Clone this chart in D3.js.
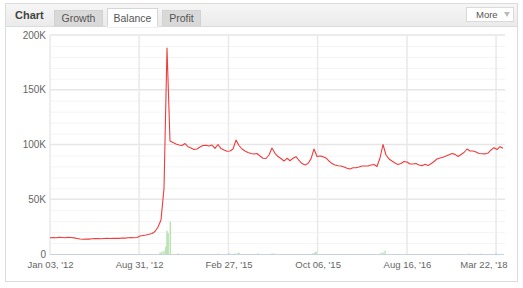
<!DOCTYPE html>
<html lang="en">
<head>
<meta charset="UTF-8">
<title>Balance chart</title>
<style>
  body { margin: 0; background: #fff; }
  svg { display: block; font-family: "Liberation Sans", Arial, sans-serif; }
</style>
</head>
<body>
<svg width="523" height="288"></svg>
<script src="https://d3js.org/d3.v7.min.js"></script>
<script>

// balance, in thousands, one sample per step of the category axis
var balance = [
  14.9, 15.1, 14.9, 15.2, 15.1, 14.8, 15.2, 15.0, 14.7, 14.2,
  13.7, 13.5, 13.7, 13.6, 13.9, 14.0, 14.1, 13.9, 14.2, 14.3,
  14.1, 14.3, 14.4, 14.3, 14.6, 14.5, 14.9, 15.0, 14.8, 15.1,
  16.4, 16.9, 17.4, 18.0, 18.7, 20.5, 24.7, 31.0, 60.0, 188.0,
  103.2, 101.8, 100.5, 99.5, 99.1, 100.9, 98.0, 96.8, 95.4, 95.9,
  97.7, 99.1, 99.3, 98.6, 99.5, 96.5, 100.0, 96.3, 95.0, 93.8,
  94.1, 95.9, 104.0, 99.1, 95.9, 94.1, 92.7, 91.8, 91.3, 91.8,
  89.5, 87.4, 87.2, 90.4, 96.8, 92.0, 89.0, 87.2, 84.9, 87.4,
  85.2, 87.4, 88.9, 85.4, 82.6, 81.3, 82.6, 86.9, 95.9, 89.0,
  89.5, 88.9, 87.7, 84.9, 82.6, 81.3, 80.6, 80.4, 79.4, 78.3,
  77.6, 78.8, 78.8, 79.4, 80.4, 80.4, 80.4, 81.3, 81.7, 79.9,
  87.7, 100.0, 90.4, 86.8, 84.9, 83.1, 81.7, 82.6, 84.5, 84.0,
  82.2, 82.2, 82.6, 81.3, 80.6, 81.9, 80.8, 82.4, 84.5, 86.8,
  87.7, 88.4, 89.5, 90.7, 91.8, 91.0, 89.0, 90.9, 92.7, 95.9,
  94.1, 94.1, 93.1, 91.8, 91.5, 91.4, 92.2, 95.0, 97.1, 95.4,
  98.0, 96.5
];

// deposit bars: position on the same axis, value in thousands
var barPos = [36.7, 37.3, 38, 38.6, 39, 39.4, 40.1, 42.7, 56, 59.7, 61.7, 62.7, 63,
              69.3, 74, 74.7, 87.7, 88.3, 88.7, 110.3, 111, 111.7, 139.7, 143.7, 148.7];
var barVal = [1.4, 2.1, 3.0, 6.7, 21.3, 19.0, 29.5, 0.6, 0.5, 0.8, 0.6, 1.0, 1.2,
              0.6, 0.5, 0.5, 0.8, 1.3, 2.2, 1.0, 1.5, 3.0, 0.5, 0.5, 0.6];

var tickPos = [0, 29.7, 59.5, 89.2, 119, 148.7];
var tickLabels = ["Jan 03, '12", "Aug 31, '12", "Feb 27, '15", "Oct 06, '15", "Aug 16, '16", "Mar 22, '18"];

var yTicks = [0, 50, 100, 150, 200];
var tabs = ["Growth", "Balance", "Profit"];

var svg = d3.select("svg");

// panel + header
svg.append("rect").attr("x", 5.5).attr("y", 3.5).attr("width", 512).attr("height", 278)
    .attr("fill", "#fff").attr("stroke", "#dcdcdc");

var grad = svg.append("defs").append("linearGradient").attr("id", "hdr")
    .attr("x1", 0).attr("y1", 0).attr("x2", 0).attr("y2", 1);
grad.append("stop").attr("offset", "0%").attr("stop-color", "#f6f6f6");
grad.append("stop").attr("offset", "100%").attr("stop-color", "#ebebeb");

svg.append("rect").attr("x", 6).attr("y", 4).attr("width", 511).attr("height", 22)
    .attr("fill", "url(#hdr)");
svg.append("line").attr("x1", 6).attr("x2", 517).attr("y1", 26.5).attr("y2", 26.5)
    .attr("stroke", "#dcdcdc");

svg.append("text").attr("x", 15).attr("y", 19).text("Chart")
    .attr("font-size", 11).attr("font-weight", "bold").attr("fill", "#444");

var tabX = [54, 107, 162], tabW = [48, 50, 38];
tabs.forEach(function(t, i) {
    var active = t == "Balance";
    svg.append("rect")
        .attr("x", tabX[i] + 0.5).attr("y", active ? 8.5 : 10.5)
        .attr("width", tabW[i]).attr("height", active ? 18.5 : 15.5)
        .attr("fill", active ? "#fff" : "#d9d9d9")
        .attr("stroke", active ? "#d6d6d6" : "#d2d2d2");
    svg.append("text").attr("x", tabX[i] + tabW[i] / 2 + 0.5).attr("y", 21.5)
        .attr("text-anchor", "middle").attr("font-size", 10.5).attr("fill", "#555").text(t);
});
svg.append("line").attr("x1", 107.5).attr("x2", 157.5).attr("y1", 26.5).attr("y2", 26.5)
    .attr("stroke", "#fff").attr("stroke-width", 1.5);

svg.append("rect").attr("x", 466.5).attr("y", 7.5).attr("width", 47).attr("height", 14)
    .attr("fill", "#fff").attr("stroke", "#dadada");
svg.append("text").attr("x", 476).attr("y", 18).attr("font-size", 9.5).attr("fill", "#555").text("More");
svg.append("path").attr("d", "M504,12 L510,12 L507,17 Z").attr("fill", "#bbb");

// scales
var x = d3.scaleLinear().domain([0, balance.length - 1]).range([50, 503]);
var y = d3.scaleLinear().domain([0, 200]).range([254, 35]);

// minor grid
svg.append("g").selectAll("line").data(d3.range(10, 200, 10).filter(function(d) { return d % 50; }))
    .enter().append("line")
    .attr("x1", 50).attr("x2", 505).attr("y1", function(d) { return y(d) + 0.5; })
    .attr("y2", function(d) { return y(d) + 0.5; })
    .attr("stroke", "#f4f4f4");

// major grid
svg.append("g").selectAll("line").data(yTicks.slice(1))
    .enter().append("line")
    .attr("x1", 50).attr("x2", 505).attr("y1", function(d) { return y(d); })
    .attr("y2", function(d) { return y(d); })
    .attr("stroke", "#e6e6e6").attr("stroke-width", 1.5);

svg.append("g").selectAll("line").data(tickPos)
    .enter().append("line")
    .attr("x1", function(d) { return x(d); }).attr("x2", function(d) { return x(d); })
    .attr("y1", 35).attr("y2", 254)
    .attr("stroke", "#e9e9e9").attr("stroke-width", 1.5);

// y axis labels
var yAxis = svg.append("g").attr("transform", "translate(50,0)")
    .call(d3.axisLeft(y).tickValues(yTicks).tickSize(0).tickPadding(4)
        .tickFormat(function(d) { return d == 0 ? "0" : d + "K"; }));
yAxis.select(".domain").remove();
yAxis.selectAll("text").attr("font-family", "Liberation Sans, Arial, sans-serif")
    .attr("font-size", 10).attr("fill", "#666");

// deposit bars
svg.append("g").selectAll("rect").data(barPos)
    .enter().append("rect")
    .attr("x", function(d) { return x(d) - 0.7; })
    .attr("width", 1.4)
    .attr("y", function(d, i) { return y(barVal[i]); })
    .attr("height", function(d, i) { return y(0) - y(barVal[i]); })
    .attr("fill", "#9fd894").attr("opacity", 0.75);

// x axis
var xAxis = svg.append("g").attr("transform", "translate(0,254)")
    .call(d3.axisBottom(x).tickValues(tickPos).tickSize(0).tickPadding(7)
        .tickFormat(function(d, i) { return tickLabels[i]; }));
xAxis.select(".domain").attr("stroke", "#c7d4e0").attr("d", "M50,0.5H504");
xAxis.selectAll("text").attr("font-family", "Liberation Sans, Arial, sans-serif")
    .attr("font-size", 9.5).attr("fill", "#666");
// last label is pulled back inside the panel
xAxis.selectAll("text").filter(function(d, i) { return i == tickPos.length - 1; })
    .attr("text-anchor", "end").attr("dx", 11);

// balance line
var line = d3.line()
    .x(function(d, i) { return x(i); })
    .y(function(d) { return y(d); });

svg.append("path").datum(balance)
    .attr("d", line)
    .attr("fill", "none")
    .attr("stroke", "#f03c3c")
    .attr("stroke-width", 1.1)
    .attr("stroke-linejoin", "round");

</script>
</body>
</html>
